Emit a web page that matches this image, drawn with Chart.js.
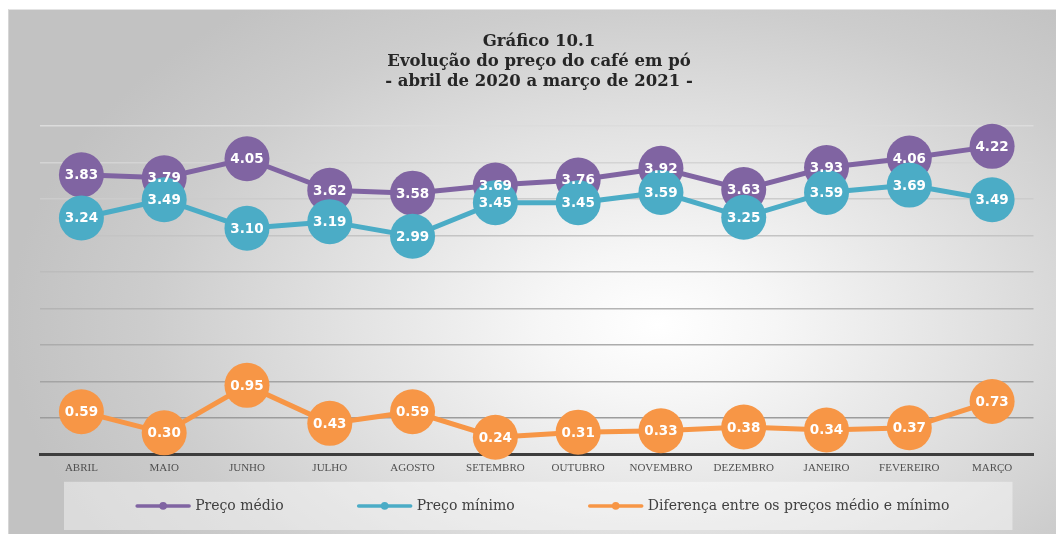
<!DOCTYPE html>
<html><head><meta charset="utf-8">
<script src="https://cdn.jsdelivr.net/npm/chart.js@4/dist/chart.umd.min.js"></script>
<style>
html,body{margin:0;padding:0;background:#fff;width:1056px;height:534px;overflow:hidden;}
#bg{position:absolute;left:8px;top:9px;width:1048px;height:525px;box-sizing:border-box;
  background:radial-gradient(ellipse 62% 78% at 62% 60%, #ffffff 0%, #f6f6f6 18%, #e2e2e2 48%, #cdcdcd 78%, #c2c2c2 100%);
  border-top:1px solid #e4e4e4;border-left:1px solid #d6d6d6;}
#wrap{position:absolute;left:0;top:0;width:1056px;height:534px;}
</style></head><body>
<div id="bg"></div>
<div id="wrap"><canvas id="c" width="1056" height="534"></canvas></div>
<script>
const categories = ['ABRIL','MAIO','JUNHO','JULHO','AGOSTO','SETEMBRO','OUTUBRO','NOVEMBRO','DEZEMBRO','JANEIRO','FEVEREIRO','MARÇO'];
const precoMedio = [3.83, 3.79, 4.05, 3.62, 3.58, 3.69, 3.76, 3.92, 3.63, 3.93, 4.06, 4.22];
const precoMinimo = [3.24, 3.49, 3.10, 3.19, 2.99, 3.45, 3.45, 3.59, 3.25, 3.59, 3.69, 3.49];
const diferenca = [0.59, 0.30, 0.95, 0.43, 0.59, 0.24, 0.31, 0.33, 0.38, 0.34, 0.37, 0.73];
const seriesNames = ['Preço médio', 'Preço mínimo', 'Diferença entre os preços médio e mínimo'];
const seriesColors = ['#8064A2', '#4BACC6', '#F79646'];
const titleLines = ['Gráfico 10.1', 'Evolução do preço do café em pó', '- abril de 2020 a março de 2021 -'];
const yMin = 0, yMax = 4.5, yStep = 0.5;

function ds(i, data, order) {
  return {
    label: seriesNames[i], data: data, order: order,
    borderColor: seriesColors[i], backgroundColor: seriesColors[i],
    pointBackgroundColor: seriesColors[i], pointBorderColor: seriesColors[i],
    borderWidth: 5, pointRadius: 22.5, pointHoverRadius: 22.5, pointBorderWidth: 0,
    tension: 0, clip: false, fill: false
  };
}

const valueLabels = {
  id: 'valueLabels',
  afterDatasetsDraw(chart) {
    const ctx = chart.ctx;
    ctx.save();
    ctx.font = 'bold 13.5px "DejaVu Sans", Verdana, sans-serif';
    ctx.fillStyle = '#ffffff';
    ctx.textAlign = 'center';
    ctx.textBaseline = 'middle';
    chart.data.datasets.forEach((d, di) => {
      const meta = chart.getDatasetMeta(di);
      meta.data.forEach((el, i) => {
        ctx.fillText(Number(d.data[i]).toFixed(2), el.x, el.y + 1);
      });
    });
    ctx.restore();
  }
};

const legendBox = {
  id: 'legendBox',
  beforeDraw(chart) {
    const a = chart.chartArea, ctx = chart.ctx;
    ctx.save();
    ctx.fillStyle = 'rgba(255,255,255,0.42)';
    ctx.fillRect(a.left + 24, a.bottom + 27, (a.right - 21) - (a.left + 24), chart.height - 4 - (a.bottom + 27));
    ctx.restore();
  },
  afterDraw(chart) {
    const a = chart.chartArea, ctx = chart.ctx;
    const top = a.bottom + 27, bottom = chart.height - 4;
    const cy = (top + bottom) / 2;
    ctx.save();
    ctx.font = '14px "DejaVu Serif", serif';
    ctx.textBaseline = 'middle';
    ctx.textAlign = 'left';
    const mw = 54, gap = 5, itemGap = 74;
    const items = chart.data.datasets.map(d => ({ text: d.label, color: d.borderColor, w: mw + gap + ctx.measureText(d.label).width }));
    const total = items.reduce((s, it) => s + it.w, 0) + itemGap * (items.length - 1);
    let x = (a.left + a.right) / 2 - total / 2 + 6;
    items.forEach(it => {
      ctx.strokeStyle = it.color; ctx.lineWidth = 3.5; ctx.lineCap = 'round';
      ctx.beginPath(); ctx.moveTo(x + 1, cy); ctx.lineTo(x + mw - 1, cy); ctx.stroke();
      ctx.fillStyle = it.color;
      ctx.beginPath(); ctx.arc(x + mw / 2, cy, 3.8, 0, Math.PI * 2); ctx.fill();
      ctx.fillStyle = '#404040';
      ctx.fillText(it.text, x + mw + gap, cy);
      x += it.w + itemGap;
    });
    ctx.restore();
  }
};

function gridColor(c) {
  const v = c.tick ? c.tick.value : 0;
  if (v <= 0) return 'rgba(0,0,0,0)';
  const t = (v - 0.5) / 4;
  const g = Math.round(0x9c + t * (0xdc - 0x9c));
  return 'rgb(' + g + ',' + g + ',' + g + ')';
}

new Chart(document.getElementById('c'), {
  type: 'line',
  data: {
    labels: categories,
    datasets: [ds(0, precoMedio, 2), ds(1, precoMinimo, 1), ds(2, diferenca, 0)]
  },
  options: {
    responsive: false,
    animation: false,
    devicePixelRatio: 1,
    layout: { padding: { left: 40, right: 18, top: 22, bottom: 52 } },
    plugins: {
      legend: { display: false },
      tooltip: { enabled: false },
      title: {
        display: true, text: titleLines, color: '#262626',
        font: { family: '"DejaVu Serif", serif', size: 16.5, weight: 'bold', lineHeight: 1.21 },
        padding: { top: 10, bottom: 34 }
      }
    },
    scales: {
      x: {
        offset: true,
        grid: { display: false, drawTicks: false },
        border: { display: true, color: '#3d3d3d', width: 3 },
        ticks: { color: '#505050', font: { family: '"Liberation Serif", serif', size: 11 }, padding: 7, maxRotation: 0, autoSkip: false }
      },
      y: {
        min: yMin, max: yMax,
        ticks: { display: false, stepSize: yStep },
        grid: { color: gridColor, lineWidth: 1.6, drawTicks: false },
        border: { display: false }
      }
    }
  },
  plugins: [legendBox, valueLabels]
});
</script>
</body></html>
